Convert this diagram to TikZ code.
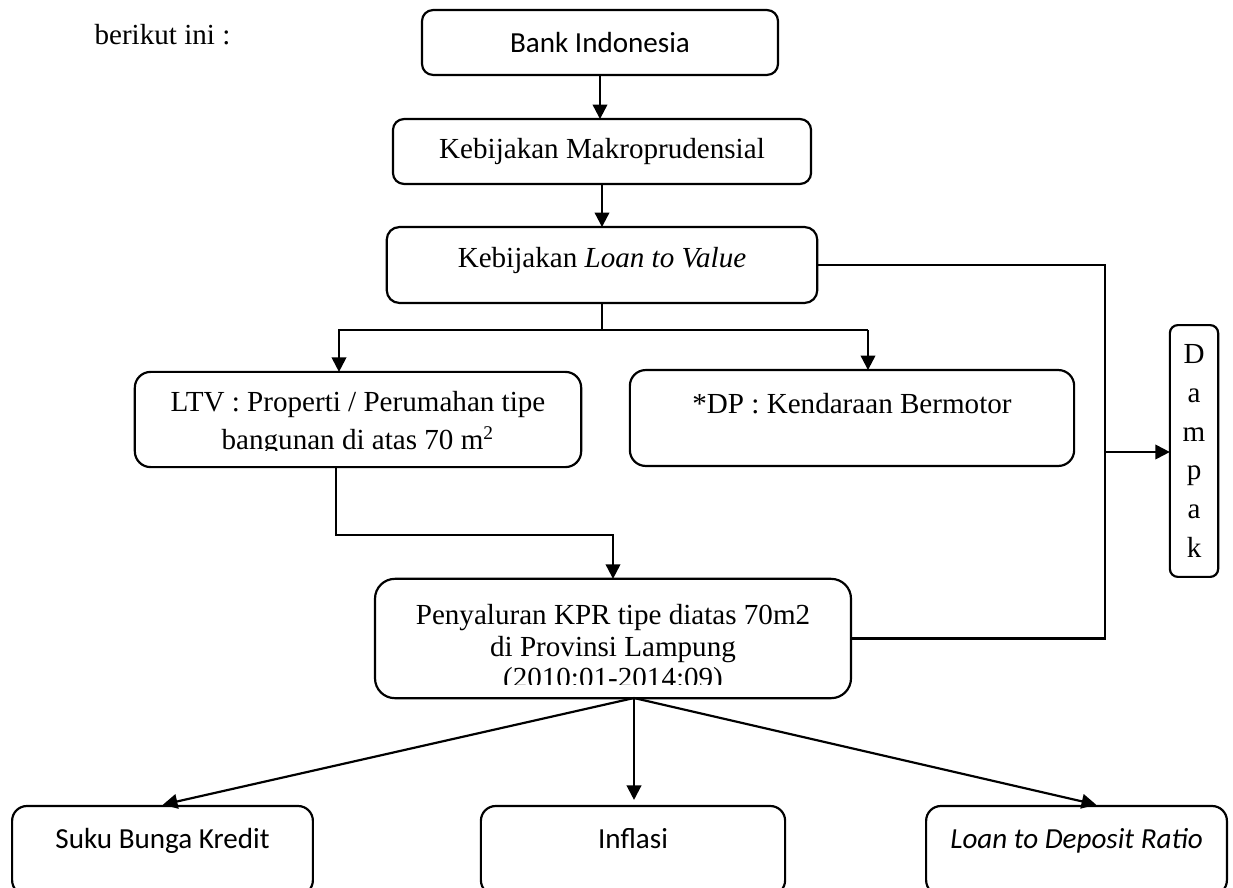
\documentclass[tikz,border=0pt]{standalone}
\usepackage{fontspec}
\setmainfont{Liberation Serif}
\newfontfamily\calibri{Carlito}
\usetikzlibrary{arrows.meta, positioning}

\begin{document}
\begin{tikzpicture}[x=0.0145cm, y=-0.0145cm,
    box/.style={draw, line width=0.9pt, inner sep=0pt, outer sep=0pt, align=center,
                font=\fontsize{12pt}{14pt}\selectfont},
    sansbox/.style={box, font=\calibri\fontsize{12pt}{14pt}\selectfont},
    boxtext/.style={inner sep=0pt, anchor=north, align=center},
    arr/.style={line width=0.9pt, -{Triangle[length=6pt, width=6pt]}},
    wire/.style={line width=0.9pt}]

    % page is 1233 x 887 px, y runs downwards
    \path[use as bounding box] (0,0) rectangle (1233,887);
    \clip (0,0) rectangle (1233,887);

    \node[anchor=base west, font=\fontsize{12pt}{14pt}\selectfont] (intro) at (86,45) {berikut ini :};

    % === policy chain ===
    \node[sansbox, rounded corners=4.5pt, minimum width=5.16cm, minimum height=0.94cm] (bi) at (600,42.5) {Bank Indonesia};
    \node[box, rounded corners=4.5pt, minimum width=6.06cm, minimum height=0.94cm] (makro) at (602,151.5) {Kebijakan Makroprudensial};
    \node[box, rounded corners=5.2pt, minimum width=6.24cm, minimum height=1.10cm,
          text height=9pt, text depth=7.3pt] (kltv) at (602,265) {Kebijakan \textit{Loan to Value}};

    % === two instruments ===
    % text of the LTV and KPR boxes runs over their lower margin and is cut off there
    \node[box, rounded corners=6.5pt, minimum width=6.47cm, minimum height=1.38cm] (ltv) at (358,419.5) {};
    \begin{scope}
        \clip (135,372) rectangle (581,450);
        \node[boxtext, font=\fontsize{12pt}{15.7pt}\selectfont] (ltvtext) at (358,391)
            {LTV : Properti / Perumahan tipe\\bangunan di atas 70 m\textsuperscript{2}};
    \end{scope}
    \node[box, rounded corners=6.5pt, minimum width=6.44cm, minimum height=1.39cm,
          text height=9pt, text depth=13.1pt] (dp) at (852,418) {*DP : Kendaraan Bermotor};

    \node[box, rounded corners=8.2pt, minimum width=6.90cm, minimum height=1.73cm] (kpr) at (613,638.5) {};
    \begin{scope}
        \clip (375,579) rectangle (851,684);
        \node[boxtext, font=\fontsize{12pt}{13pt}\selectfont] (kprtext) at (613,604)
            {Penyaluran KPR tipe diatas 70m2\\di Provinsi Lampung\\(2010:01-2014:09)};
    \end{scope}

    \node[box, rounded corners=3.3pt, minimum width=0.70cm, minimum height=3.65cm,
          font=\fontsize{12pt}{16pt}\selectfont] (dampak) at (1194,451) {D\\a\\m\\p\\a\\k};

    % === effects ===
    \node[sansbox, rounded corners=6.1pt, minimum width=4.36cm, minimum height=1.29cm,
          text height=9pt, text depth=11pt] (suku) at (162.5,850.5) {Suku Bunga Kredit};
    \node[sansbox, rounded corners=6.1pt, minimum width=4.41cm, minimum height=1.29cm,
          text height=9pt, text depth=11pt] (inflasi) at (633,850.5) {Inflasi};
    \node[sansbox, rounded corners=6.1pt, minimum width=4.36cm, minimum height=1.29cm,
          text height=9pt, text depth=11pt] (ldr) at (1076.5,850.5) {\itshape Loan to Deposit Ratio};

    % === connectors ===
    \draw[arr] (bi.south) -- (bi.south |- makro.north);
    \draw[arr] (makro.south) -- (makro.south |- kltv.north);

    \coordinate (splitL) at (339,330);
    \coordinate (splitR) at (868,330);
    \draw[wire] (kltv.south) -- (kltv.south |- splitL);
    \draw[arr] (splitR) -- (splitL) -- (splitL |- ltv.north);
    \draw[arr] (splitR) -- (splitR |- dp.north);

    \coordinate (elbow) at (336,535);
    \draw[arr] (ltv.south -| elbow) -- (elbow) -| (kpr.north);

    \coordinate (rail) at (1105,452);
    \draw[wire] (kltv.east) -| (rail) |- (kpr.east);
    \draw[arr] (rail) -- (rail -| dampak.west);

    \coordinate (fan) at (634,698);
    \draw[arr, shorten >=2.5pt] (fan) -- ([xshift=-0.08cm]suku.north);
    \draw[arr, shorten >=2.5pt] (fan) -- (fan |- inflasi.north);
    \draw[arr, shorten >=2.5pt] (fan) -- ([xshift=0.37cm]ldr.north);

\end{tikzpicture}
\end{document}
